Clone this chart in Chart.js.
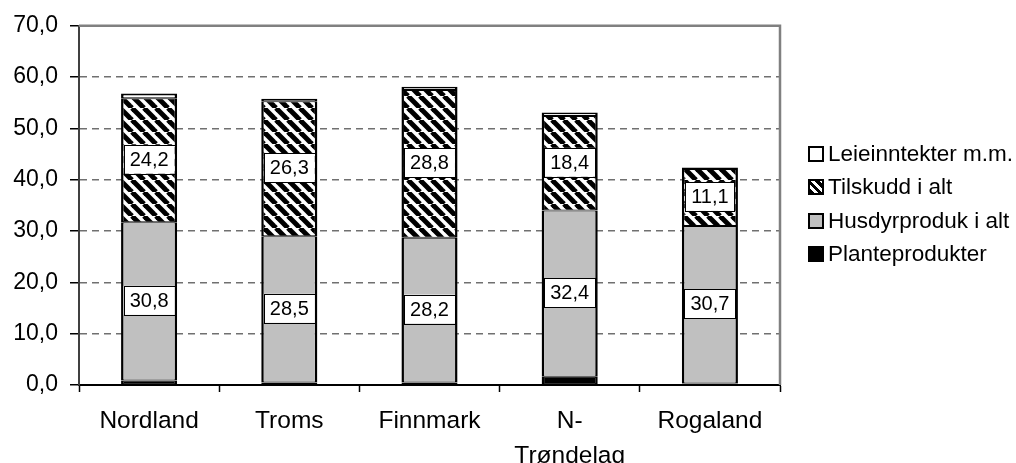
<!DOCTYPE html>
<html>
<head>
<meta charset="utf-8">
<script src="https://cdn.jsdelivr.net/npm/chart.js@4.4.1/dist/chart.umd.min.js"></script>
<style>
  html, body { margin: 0; padding: 0; background: #fff; }
  #wrap { position: relative; width: 1016px; height: 463px; }
  #legend { position: absolute; left: 808px; top: 0; font-family: Arial, "Liberation Sans", sans-serif; font-size: 22.5px; color: #000; }
  .item { position: absolute; left: 0; white-space: nowrap; height: 26px; line-height: 26px; }
  .box { position: absolute; left: 0; top: 5px; width: 12px; height: 12px; border: 2px solid #000; }
  .lbl { position: absolute; left: 20px; top: 0; }
</style>
</head>
<body>
<div id="wrap">
  <canvas id="chart" width="1016" height="463"></canvas>
  <div id="legend"></div>
</div>
<script>
// kategorier og verdier lest av figuren
const fylker = ['Nordland', 'Troms', 'Finnmark', ['N-', 'Trøndelag'], 'Rogaland'];
const planteprodukter = [0.9, 0.5, 0.5, 1.6, 0.3];
const husdyrprodukter = [30.8, 28.5, 28.2, 32.4, 30.7];
const tilskudd = [24.2, 26.3, 28.8, 18.4, 11.1];
const leieinntekter = [0.9, 0.5, 0.6, 0.7, 0.3];
const yTicks = [0, 10, 20, 30, 40, 50, 60, 70];

const FONT = 'Arial, "Liberation Sans", sans-serif';

// skravering \\\ for tilskudd
function makeHatch() {
    const s = 12;
    const c = document.createElement('canvas');
    c.width = s; c.height = s;
    const g = c.getContext('2d');
    g.fillStyle = '#fff';
    g.fillRect(0, 0, s, s);
    g.strokeStyle = '#000';
    g.lineWidth = 5;
    for (let k = -1; k <= 1; k++) {
        g.beginPath();
        g.moveTo(k * s, 0);
        g.lineTo(k * s + s, s);
        g.stroke();
    }
    return g.createPattern(c, 'repeat');
}
const hatch = makeHatch();

const fmt = v => v.toFixed(1).replace('.', ',');

// hvite etikettbokser midt i segmentene
const boxLabels = {
    id: 'boxLabels',
    afterDatasetsDraw(chart) {
        const ctx = chart.ctx;
        ctx.save();
        ctx.font = '20px ' + FONT;
        ctx.textAlign = 'center';
        ctx.textBaseline = 'middle';
        [1, 2].forEach(di => {
            const meta = chart.getDatasetMeta(di);
            meta.data.forEach((bar, i) => {
                const v = chart.data.datasets[di].data[i];
                const txt = fmt(v);
                const cy = (bar.y + bar.base) / 2 - 1;
                const w = ctx.measureText(txt).width + 12;
                const h = 29;
                ctx.fillStyle = '#fff';
                ctx.fillRect(bar.x - w / 2, cy - h / 2, w, h);
                ctx.strokeStyle = '#000';
                ctx.lineWidth = 1;
                ctx.strokeRect(Math.round(bar.x - w / 2) + 0.5, Math.round(cy - h / 2) + 0.5, Math.round(w), h);
                ctx.fillStyle = '#000';
                ctx.fillText(txt, bar.x, cy + 1);
            });
        });
        ctx.restore();
    }
};

// grå ramme rundt plottet (topp og høyre)
const plotFrame = {
    id: 'plotFrame',
    beforeDatasetsDraw(chart) {
        const a = chart.chartArea;
        const ctx = chart.ctx;
        ctx.save();
        ctx.strokeStyle = '#808080';
        ctx.lineWidth = 2.5;
        ctx.beginPath();
        ctx.moveTo(a.left, a.top);
        ctx.lineTo(a.right, a.top);
        ctx.lineTo(a.right, a.bottom);
        ctx.stroke();
        ctx.restore();
    }
};

const seg = (label, data, bg, top) => ({
    label: label,
    data: data,
    backgroundColor: bg,
    borderColor: '#000',
    borderWidth: { left: 2.5, right: 2.5, top: top, bottom: 1 },
    borderSkipped: false,
    barPercentage: 0.4,
    categoryPercentage: 1
});

new Chart(document.getElementById('chart').getContext('2d'), {
    type: 'bar',
    data: {
        labels: fylker,
        datasets: [
            seg('Planteprodukter', planteprodukter, '#000', 1),
            seg('Husdyrproduk i alt', husdyrprodukter, '#c0c0c0', 1),
            seg('Tilskudd i alt', tilskudd, hatch, 1),
            seg('Leieinntekter m.m.', leieinntekter, '#fff', 2)
        ]
    },
    options: {
        responsive: false,
        animation: false,
        layout: { padding: { top: 21, right: 1016 - 780, left: 0, bottom: 0 } },
        plugins: {
            legend: { display: false },
            tooltip: { enabled: false }
        },
        scales: {
            x: {
                stacked: true,
                afterFit: s => { s.height = 463 - 385; },
                grid: { offset: true, drawOnChartArea: false, tickLength: 7, tickColor: '#000', tickWidth: 1.5 },
                border: { color: '#000', width: 2 },
                ticks: { color: '#000', padding: 12, font: { family: FONT, size: 24.5, lineHeight: 1.42 }, maxRotation: 0, autoSkip: false }
            },
            y: {
                stacked: true,
                min: 0,
                max: 70,
                afterFit: s => { s.width = 79; },
                afterBuildTicks: s => { s.ticks = yTicks.map(v => ({ value: v })); },
                grid: {
                    color: ctx => (ctx.tick && (ctx.tick.value === 0 || ctx.tick.value === 70)) ? 'rgba(0,0,0,0)' : '#707070',
                    lineWidth: 1.5,
                    tickLength: 9,
                    tickColor: '#000',
                    tickWidth: 1.5,
                    tickBorderDash: []
                },
                border: { color: '#404040', width: 2, dash: [7, 5] },
                ticks: { color: '#000', padding: 12, font: { family: FONT, size: 23 }, callback: v => fmt(v) }
            }
        }
    },
    plugins: [plotFrame, boxLabels]
});

// forklaring (omvendt rekkefølge, som i originalen)
const legendItems = [
    ['Leieinntekter m.m.', '#fff'],
    ['Tilskudd i alt', 'hatch'],
    ['Husdyrproduk i alt', '#c0c0c0'],
    ['Planteprodukter', '#000']
];
const rowMid = [154, 187, 221, 254];
const legend = document.getElementById('legend');
legendItems.forEach((it, i) => {
    const row = document.createElement('div');
    row.className = 'item';
    row.style.top = (rowMid[i] - 13) + 'px';
    const box = document.createElement('div');
    box.className = 'box';
    if (it[1] === 'hatch') {
        box.style.background = 'repeating-linear-gradient(45deg, #000 0 3px, #fff 3px 6px)';
    } else {
        box.style.background = it[1];
    }
    const lbl = document.createElement('span');
    lbl.className = 'lbl';
    lbl.textContent = it[0];
    row.appendChild(box);
    row.appendChild(lbl);
    legend.appendChild(row);
});
</script>
</body>
</html>
